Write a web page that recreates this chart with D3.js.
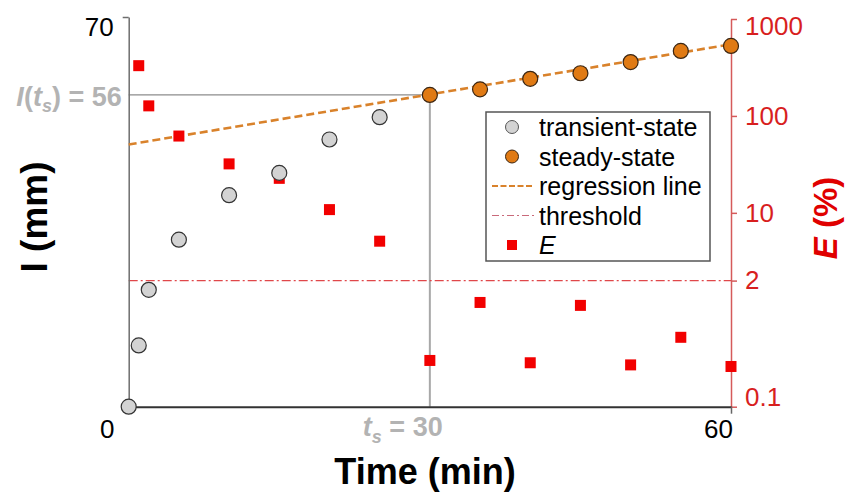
<!DOCTYPE html>
<html><head><meta charset="utf-8">
<script src="https://cdn.jsdelivr.net/npm/d3@7"></script>
<style>
body{margin:0;background:#fff;}
svg{display:block;font-family:"Liberation Sans",Arial,sans-serif;}
</style></head>
<body><svg id="c" width="846" height="494"></svg>
<script>
// ---- data ----
const transientTime = [0, 1, 2, 5, 10, 15, 20, 25];
const transientI    = [0, 11, 21, 30, 38, 42, 48, 52];
const steadyTime    = [30, 35, 40, 45, 50, 55, 60];
const steadyI       = [56, 57, 58.9, 59.9, 61.9, 63.9, 64.8];
const errTime       = [1, 2, 5, 10, 15, 20, 25, 30, 35, 40, 45, 50, 55, 60];
const errE          = [330, 127, 62, 32, 22.7, 10.8, 5.1, 0.30, 1.19, 0.284, 1.11, 0.27, 0.52, 0.26];
const regIntercept  = 47.1;
const regSlope      = 0.3;
const threshold     = 2;
const ts = 30, Its = 56;
const leftTicks  = [70];
const rightTicks = [0.1, 2, 10, 100, 1000];
const bottomTicks = [0, 60];
const legendLabels = ["transient-state", "steady-state", "regression line", "threshold", "E"];

// ---- layout ----
const svg = d3.select("#c");
const L = 128.7, R = 731, T = 17, B = 406.7;
const x = d3.scaleLinear().domain([0, 60]).range([L, R]);
const y = d3.scaleLinear().domain([0, 70]).range([B, T]);
const yE = d3.scaleLog().domain([0.1, 1000]).range([B, 19]);

const red = "#d81f1f", orange = "#e07a14", grayTxt = "#b3b3b3";

// reference lines
svg.append("line").attr("x1", x(0)).attr("x2", x(ts)).attr("y1", y(Its)).attr("y2", y(Its))
  .attr("stroke", "#8c8c8c").attr("stroke-width", 1.2);
svg.append("line").attr("x1", x(ts)).attr("x2", x(ts)).attr("y1", y(Its)).attr("y2", B)
  .attr("stroke", "#a8a8a8").attr("stroke-width", 2);

// threshold
svg.append("line").attr("x1", x(0)).attr("x2", x(60)).attr("y1", yE(threshold)).attr("y2", yE(threshold))
  .attr("stroke", "#e0474a").attr("stroke-width", 1.2).attr("stroke-dasharray", "9,3,2,3");

// axes
const gL = svg.append("g").attr("transform", `translate(${L},0)`)
  .call(d3.axisLeft(y).tickValues(leftTicks).tickSize(6).tickPadding(9).tickSizeOuter(0));
gL.select(".domain").attr("stroke", "#6e6e6e").attr("stroke-width", 1.5);
gL.selectAll(".tick line").attr("stroke", "#6e6e6e").attr("stroke-width", 1.5);
gL.selectAll(".tick text").attr("font-size", 26).attr("fill", "#000").attr("font-family", "Liberation Sans, Arial")
  .attr("transform", "translate(0,10)");

const gR = svg.append("g").attr("transform", `translate(${R},0)`)
  .call(d3.axisRight(yE).tickValues(rightTicks).tickFormat(d3.format("~g")).tickSize(6).tickPadding(8).tickSizeOuter(0));
gR.select(".domain").attr("stroke", "#d55a5a").attr("stroke-width", 1.5);
gR.selectAll(".tick line").attr("stroke", "#d55a5a").attr("stroke-width", 1.5);
gR.selectAll(".tick text").attr("font-size", 26).attr("fill", red).attr("font-family", "Liberation Sans, Arial")
  .attr("transform", d => d === 1000 ? "translate(0,7)" : d === 0.1 ? "translate(0,-10)" : null);

const gB = svg.append("g").attr("transform", `translate(0,${B})`)
  .call(d3.axisBottom(x).tickValues(bottomTicks).tickSize(7).tickPadding(6).tickSizeOuter(0));
gB.select(".domain").attr("stroke", "#333").attr("stroke-width", 2);
gB.selectAll(".tick line").attr("stroke", "#666").attr("stroke-width", 1.5).attr("opacity", d => d === 0 ? 0 : 1);
gB.selectAll(".tick text").attr("font-size", 26).attr("fill", "#000").attr("font-family", "Liberation Sans, Arial")
  .attr("transform", d => d === 0 ? "translate(-22,0)" : "translate(-13,0)");

// gray ts annotations
const t1 = svg.append("text").attr("x", x(0) - 7).attr("y", y(Its) + 11)
  .attr("text-anchor", "end").attr("font-size", 27).attr("font-weight", "bold").attr("fill", grayTxt);
t1.append("tspan").attr("font-style", "italic").text("I");
t1.append("tspan").text("(");
t1.append("tspan").attr("font-style", "italic").text("t");
t1.append("tspan").attr("font-style", "italic").attr("font-size", 18).attr("dy", 6).text("s");
t1.append("tspan").attr("dy", -6).text(") = " + Its);

const t2 = svg.append("text").attr("x", x(ts) - 67).attr("y", B + 29)
  .attr("font-size", 27).attr("font-weight", "bold").attr("fill", grayTxt);
t2.append("tspan").attr("font-style", "italic").text("t");
t2.append("tspan").attr("font-style", "italic").attr("font-size", 18).attr("dy", 7).text("s");
t2.append("tspan").attr("dy", -7).text(" = " + ts);

// regression line
svg.append("line").attr("x1", x(0)).attr("x2", x(60))
  .attr("y1", y(regIntercept)).attr("y2", y(regIntercept + regSlope * 60))
  .attr("stroke", "#d9822b").attr("stroke-width", 2.6).attr("stroke-dasharray", "8,4");

// E squares
svg.selectAll(".sq").data(errTime.map((t, i) => [t, errE[i]])).join("rect")
  .attr("x", d => x(d[0]) - 5.5).attr("y", d => yE(d[1]) - 5.5)
  .attr("width", 11).attr("height", 11).attr("fill", "#f20000");

// circles
svg.selectAll(".tr").data(transientTime.map((t, i) => [t, transientI[i]])).join("circle")
  .attr("cx", d => x(d[0])).attr("cy", d => y(d[1])).attr("r", 7.5)
  .attr("fill", "#d3d3d3").attr("stroke", "#333").attr("stroke-width", 1.2);
svg.selectAll(".st").data(steadyTime.map((t, i) => [t, steadyI[i]])).join("circle")
  .attr("cx", d => x(d[0])).attr("cy", d => y(d[1])).attr("r", 7.5)
  .attr("fill", orange).attr("stroke", "#3b2613").attr("stroke-width", 1.2);

// axis titles
svg.append("text").attr("x", 425).attr("y", 484).attr("text-anchor", "middle")
  .attr("font-size", 36).attr("font-weight", "bold").text("Time (min)");
svg.append("text").attr("transform", "translate(47,217) rotate(-90)").attr("text-anchor", "middle")
  .attr("font-size", 37).attr("font-weight", "bold").text("I (mm)");
const eT = svg.append("text").attr("transform", "translate(837,218) rotate(-90)").attr("text-anchor", "middle")
  .attr("font-size", 33).attr("font-weight", "bold").attr("fill", "#e00000");
eT.append("tspan").attr("font-style", "italic").text("E");
eT.append("tspan").text(" (%)");

// legend
const lg = svg.append("g");
lg.append("rect").attr("x", 486).attr("y", 112).attr("width", 224).attr("height", 149)
  .attr("fill", "#fff").attr("stroke", "#555").attr("stroke-width", 1.5);
const rowY = i => 127 + i * 29.5;
lg.append("circle").attr("cx", 512).attr("cy", rowY(0)).attr("r", 6.5).attr("fill", "#d3d3d3").attr("stroke", "#555");
lg.append("circle").attr("cx", 512).attr("cy", rowY(1)).attr("r", 6.5).attr("fill", orange).attr("stroke", "#3b2613");
lg.append("line").attr("x1", 492).attr("x2", 534).attr("y1", rowY(2)).attr("y2", rowY(2))
  .attr("stroke", "#d9822b").attr("stroke-width", 1.8).attr("stroke-dasharray", "6,2.5");
lg.append("line").attr("x1", 492).attr("x2", 534).attr("y1", rowY(3)).attr("y2", rowY(3))
  .attr("stroke", "#c96a7a").attr("stroke-width", 1.2).attr("stroke-dasharray", "7,3,2,3");
lg.append("rect").attr("x", 507).attr("y", rowY(4) - 5).attr("width", 10).attr("height", 10).attr("fill", "#f20000");
legendLabels.forEach((s, i) => {
  lg.append("text").attr("x", 539).attr("y", rowY(i) + 9).attr("font-size", 25)
    .attr("font-style", i === 4 ? "italic" : null).text(s);
});
</script></body></html>
